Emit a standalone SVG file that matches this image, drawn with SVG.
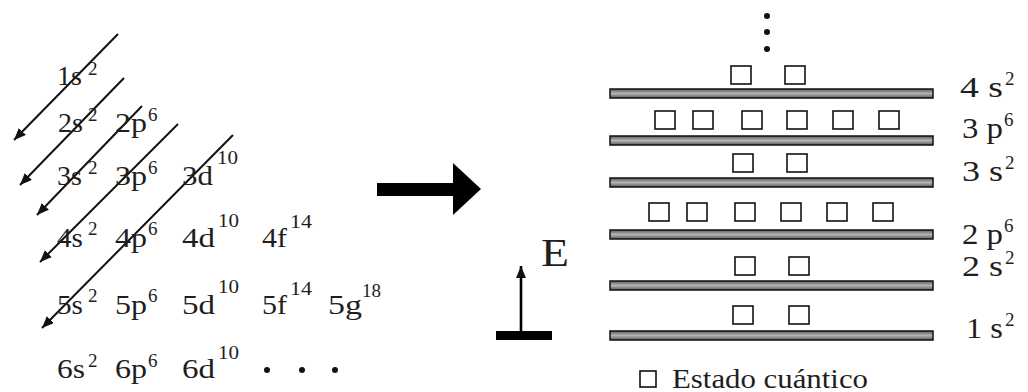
<svg xmlns="http://www.w3.org/2000/svg" width="1028" height="392" viewBox="0 0 1028 392">
  <style>
    .t { font-family: "Liberation Serif", "Times New Roman", serif; fill: #1e1e1e; }
    .orb { font-size: 28px; }
    .sup { font-size: 19px; }
    .lbl { font-size: 29px; }
    .diag { stroke: #111; stroke-width: 2; fill: none; marker-end: url(#tip); }
    .bar { fill: url(#barFill); stroke: #111; stroke-width: 1.5; }
    .box { fill: #fff; stroke: #111; stroke-width: 1.6; }
  </style>
  <defs>
    <marker id="tip" markerUnits="userSpaceOnUse" markerWidth="14" markerHeight="12" refX="12" refY="5" orient="auto">
      <path d="M0,0 L12,5 L0,10 Z" fill="#111"/>
    </marker>
    <marker id="up" markerUnits="userSpaceOnUse" markerWidth="14" markerHeight="12" refX="12" refY="5" orient="auto">
      <path d="M0,0 L12,5 L0,10 Z" fill="#111"/>
    </marker>
    <linearGradient id="barFill" x1="0" y1="0" x2="0" y2="1">
      <stop offset="0" stop-color="#5a5a5a"/>
      <stop offset="0.5" stop-color="#b4b4b4"/>
      <stop offset="1" stop-color="#5a5a5a"/>
    </linearGradient>
  </defs>
  <rect width="1028" height="392" fill="#fff"/>

  <!-- filling-order diagonals -->
  <g id="connectors">
    <line class="diag" x1="118" y1="34" x2="14" y2="140"/>
    <line class="diag" x1="124" y1="78" x2="20" y2="185"/>
    <line class="diag" x1="142" y1="106" x2="37" y2="215"/>
    <line class="diag" x1="178" y1="124" x2="40" y2="262"/>
    <line class="diag" x1="233" y1="135" x2="42" y2="328"/>
  </g>

  <!-- orbital table -->
  <g id="orbitals" class="t">
    <g id="row1">
      <text class="orb" x="57" y="85" textLength="25" lengthAdjust="spacingAndGlyphs">1s</text>
      <text class="sup" x="88" y="75">2</text>
    </g>
    <g id="row2">
      <text class="orb" x="58" y="132" textLength="25" lengthAdjust="spacingAndGlyphs">2s</text>
      <text class="sup" x="88" y="121">2</text>
      <text class="orb" x="115" y="132" textLength="32" lengthAdjust="spacingAndGlyphs">2p</text>
      <text class="sup" x="148" y="121">6</text>
    </g>
    <g id="row3">
      <text class="orb" x="57" y="185" textLength="25" lengthAdjust="spacingAndGlyphs">3s</text>
      <text class="sup" x="88" y="174">2</text>
      <text class="orb" x="115" y="185" textLength="32" lengthAdjust="spacingAndGlyphs">3p</text>
      <text class="sup" x="148" y="174">6</text>
      <text class="orb" x="182" y="185" textLength="31" lengthAdjust="spacingAndGlyphs">3d</text>
      <text class="sup" x="217" y="164" textLength="21" lengthAdjust="spacingAndGlyphs">10</text>
    </g>
    <g id="row4">
      <text class="orb" x="57" y="247" textLength="26" lengthAdjust="spacingAndGlyphs">4s</text>
      <text class="sup" x="88" y="235">2</text>
      <text class="orb" x="115" y="247" textLength="32" lengthAdjust="spacingAndGlyphs">4p</text>
      <text class="sup" x="148" y="235">6</text>
      <text class="orb" x="182" y="247" textLength="33" lengthAdjust="spacingAndGlyphs">4d</text>
      <text class="sup" x="218" y="227" textLength="21" lengthAdjust="spacingAndGlyphs">10</text>
      <text class="orb" x="262" y="247" textLength="25" lengthAdjust="spacingAndGlyphs">4f</text>
      <text class="sup" x="290" y="228" textLength="22" lengthAdjust="spacingAndGlyphs">14</text>
    </g>
    <g id="row5">
      <text class="orb" x="57" y="314" textLength="26" lengthAdjust="spacingAndGlyphs">5s</text>
      <text class="sup" x="88" y="302">2</text>
      <text class="orb" x="115" y="314" textLength="32" lengthAdjust="spacingAndGlyphs">5p</text>
      <text class="sup" x="148" y="302">6</text>
      <text class="orb" x="182" y="314" textLength="33" lengthAdjust="spacingAndGlyphs">5d</text>
      <text class="sup" x="218" y="293" textLength="21" lengthAdjust="spacingAndGlyphs">10</text>
      <text class="orb" x="262" y="314" textLength="25" lengthAdjust="spacingAndGlyphs">5f</text>
      <text class="sup" x="290" y="295" textLength="22" lengthAdjust="spacingAndGlyphs">14</text>
      <text class="orb" x="328" y="314" textLength="34" lengthAdjust="spacingAndGlyphs">5g</text>
      <text class="sup" x="362" y="297" textLength="19" lengthAdjust="spacingAndGlyphs">18</text>
    </g>
    <g id="row6">
      <text class="orb" x="57" y="378" textLength="28" lengthAdjust="spacingAndGlyphs">6s</text>
      <text class="sup" x="88" y="367">2</text>
      <text class="orb" x="115" y="378" textLength="32" lengthAdjust="spacingAndGlyphs">6p</text>
      <text class="sup" x="148" y="367">6</text>
      <text class="orb" x="182" y="378" textLength="33" lengthAdjust="spacingAndGlyphs">6d</text>
      <text class="sup" x="218" y="359" textLength="21" lengthAdjust="spacingAndGlyphs">10</text>
      <circle cx="267" cy="370" r="3" fill="#111"/>
      <circle cx="302" cy="370" r="3" fill="#111"/>
      <circle cx="335" cy="370" r="3" fill="#111"/>
    </g>
  </g>

  <!-- transition arrow -->
  <g id="bigArrow" fill="#000">
    <rect x="377" y="183" width="78" height="13"/>
    <polygon points="453,163 481,189 453,215"/>
  </g>

  <!-- energy axis -->
  <g id="energyAxis">
    <rect x="496" y="331" width="56" height="9" fill="#000"/>
    <line x1="521" y1="331" x2="521" y2="266" stroke="#000" stroke-width="2.6" marker-end="url(#up)"/>
    <text class="t" x="541" y="266" font-size="39" textLength="28" lengthAdjust="spacingAndGlyphs">E</text>
  </g>

  <!-- continuation dots -->
  <g id="moreLevels" fill="#111">
    <circle cx="767" cy="16" r="3"/>
    <circle cx="767" cy="32" r="3"/>
    <circle cx="767" cy="49" r="3"/>
  </g>

  <!-- energy levels -->
  <g id="level4s">
    <rect class="bar" x="610" y="89" width="323" height="9"/>
    <rect class="box" x="731" y="66" width="20" height="18"/>
    <rect class="box" x="785" y="66" width="20" height="18"/>
    <text class="t lbl" x="960" y="97" textLength="43" lengthAdjust="spacingAndGlyphs">4 s</text>
    <text class="t sup" x="1005" y="85">2</text>
  </g>
  <g id="level3p">
    <rect class="bar" x="610" y="136" width="323" height="9"/>
    <rect class="box" x="655" y="111" width="20" height="18"/>
    <rect class="box" x="693" y="111" width="20" height="18"/>
    <rect class="box" x="742" y="111" width="20" height="18"/>
    <rect class="box" x="787" y="111" width="20" height="18"/>
    <rect class="box" x="833" y="111" width="20" height="18"/>
    <rect class="box" x="879" y="111" width="20" height="18"/>
    <text class="t lbl" x="962" y="138" textLength="41" lengthAdjust="spacingAndGlyphs">3 p</text>
    <text class="t sup" x="1004" y="126">6</text>
  </g>
  <g id="level3s">
    <rect class="bar" x="610" y="178" width="323" height="9"/>
    <rect class="box" x="733" y="154" width="20" height="18"/>
    <rect class="box" x="787" y="154" width="20" height="18"/>
    <text class="t lbl" x="962" y="181" textLength="41" lengthAdjust="spacingAndGlyphs">3 s</text>
    <text class="t sup" x="1005" y="169">2</text>
  </g>
  <g id="level2p">
    <rect class="bar" x="610" y="230" width="323" height="9"/>
    <rect class="box" x="649" y="203" width="20" height="18"/>
    <rect class="box" x="687" y="203" width="20" height="18"/>
    <rect class="box" x="735" y="203" width="20" height="18"/>
    <rect class="box" x="781" y="203" width="20" height="18"/>
    <rect class="box" x="827" y="203" width="20" height="18"/>
    <rect class="box" x="873" y="203" width="20" height="18"/>
    <text class="t lbl" x="962" y="244" textLength="41" lengthAdjust="spacingAndGlyphs">2 p</text>
    <text class="t sup" x="1004" y="232">6</text>
  </g>
  <g id="level2s">
    <rect class="bar" x="610" y="281" width="323" height="9"/>
    <rect class="box" x="735" y="257" width="20" height="18"/>
    <rect class="box" x="789" y="257" width="20" height="18"/>
    <text class="t lbl" x="962" y="276" textLength="41" lengthAdjust="spacingAndGlyphs">2 s</text>
    <text class="t sup" x="1005" y="264">2</text>
  </g>
  <g id="level1s">
    <rect class="bar" x="610" y="331" width="323" height="9"/>
    <rect class="box" x="733" y="306" width="20" height="18"/>
    <rect class="box" x="789" y="306" width="20" height="18"/>
    <text class="t lbl" x="966" y="338" textLength="37" lengthAdjust="spacingAndGlyphs">1 s</text>
    <text class="t sup" x="1005" y="326">2</text>
  </g>

  <!-- legend -->
  <g id="legend">
    <rect class="box" x="640" y="371" width="16" height="16"/>
    <text class="t" x="672" y="388" font-size="27" textLength="196" lengthAdjust="spacingAndGlyphs">Estado cuántico</text>
  </g>
</svg>
